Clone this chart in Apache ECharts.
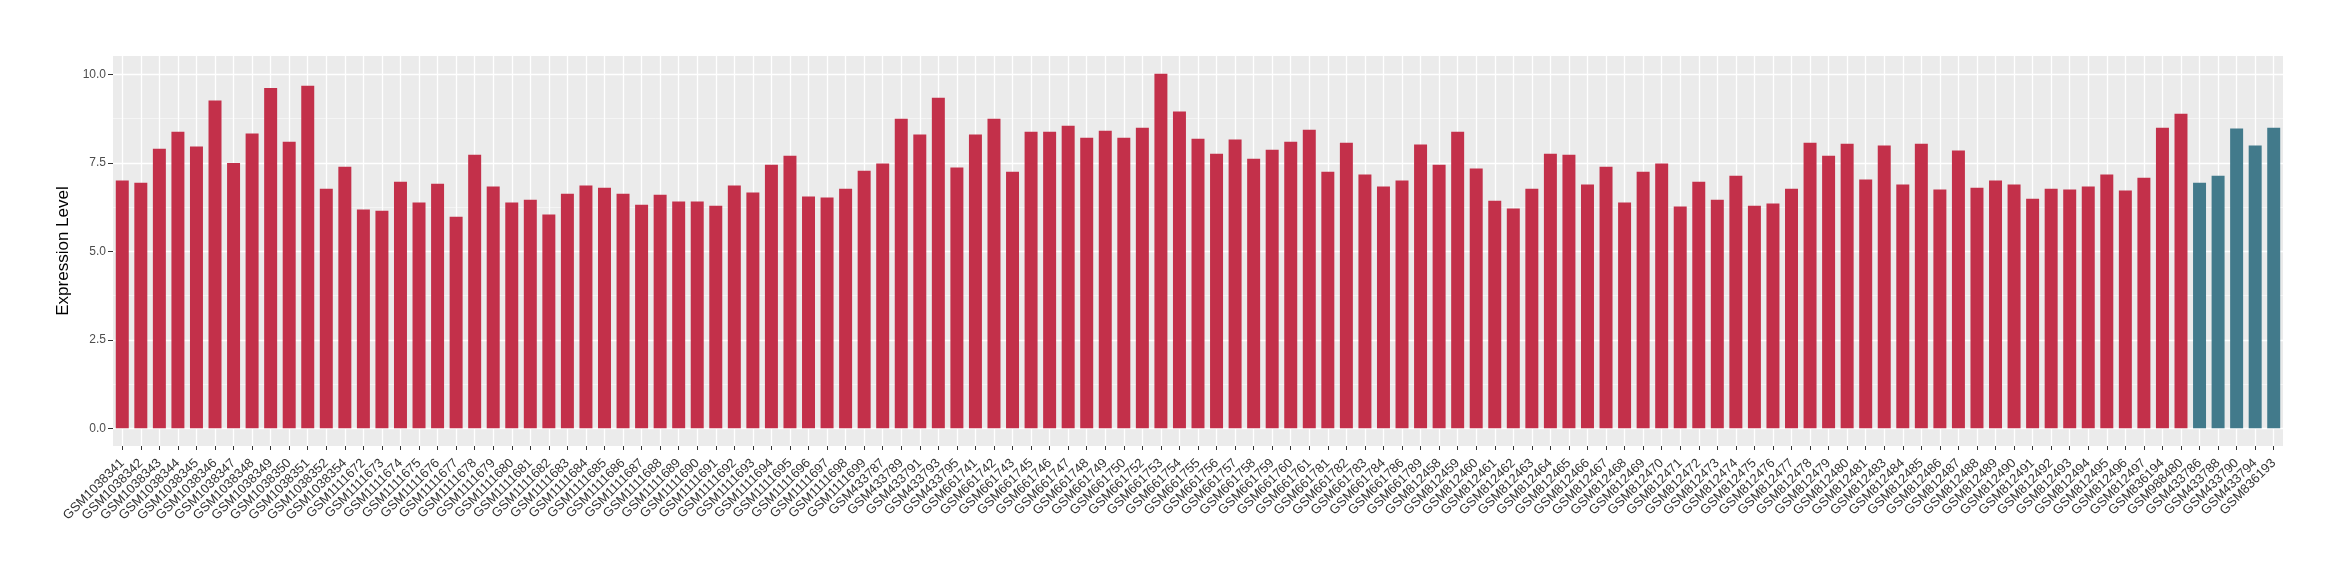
<!DOCTYPE html>
<html>
<head>
<meta charset="utf-8">
<script src="https://cdn.jsdelivr.net/npm/echarts@6/dist/echarts.min.js"></script>
<style>
  html, body { margin: 0; padding: 0; background: #ffffff; }
  #chart { width: 2340px; height: 580px; }
</style>
</head>
<body>
<div id="chart"></div>
<script>
// ---- Data ----
const redCategories = [
  'GSM1038341','GSM1038342','GSM1038343','GSM1038344','GSM1038345','GSM1038346','GSM1038347',
  'GSM1038348','GSM1038349','GSM1038350','GSM1038351','GSM1038352','GSM1038354',
  'GSM1111672','GSM1111673','GSM1111674','GSM1111675','GSM1111676','GSM1111677','GSM1111678',
  'GSM1111679','GSM1111680','GSM1111681','GSM1111682','GSM1111683','GSM1111684','GSM1111685',
  'GSM1111686','GSM1111687','GSM1111688','GSM1111689','GSM1111690','GSM1111691','GSM1111692',
  'GSM1111693','GSM1111694','GSM1111695','GSM1111696','GSM1111697','GSM1111698','GSM1111699',
  'GSM433787','GSM433789','GSM433791','GSM433793','GSM433795',
  'GSM661741','GSM661742','GSM661743','GSM661745','GSM661746','GSM661747','GSM661748','GSM661749',
  'GSM661750','GSM661752','GSM661753','GSM661754','GSM661755','GSM661756','GSM661757','GSM661758',
  'GSM661759','GSM661760','GSM661761','GSM661781','GSM661782','GSM661783','GSM661784','GSM661786',
  'GSM661789',
  'GSM812458','GSM812459','GSM812460','GSM812461','GSM812462','GSM812463','GSM812464','GSM812465',
  'GSM812466','GSM812467','GSM812468','GSM812469','GSM812470','GSM812471','GSM812472','GSM812473',
  'GSM812474','GSM812475','GSM812476','GSM812477','GSM812478','GSM812479','GSM812480','GSM812481',
  'GSM812483','GSM812484','GSM812485','GSM812486','GSM812487','GSM812488','GSM812489','GSM812490',
  'GSM812491','GSM812492','GSM812493','GSM812494','GSM812495','GSM812496','GSM812497',
  'GSM836194','GSM988480'
];
const redValues = [
  7.00, 6.94, 7.90, 8.38, 7.96, 9.26, 7.50, 8.33, 9.62, 8.10, 9.68, 6.77, 7.39,
  6.18, 6.15, 6.97, 6.38, 6.91, 5.98, 7.73, 6.83, 6.38, 6.46, 6.04, 6.63, 6.86, 6.80,
  6.63, 6.32, 6.60, 6.41, 6.41, 6.29, 6.86, 6.66, 7.45, 7.70, 6.55, 6.52, 6.77, 7.28,
  7.48, 8.75, 8.30, 9.34, 7.37,
  8.30, 8.75, 7.25, 8.38, 8.38, 8.55, 8.21, 8.41, 8.21, 8.49, 10.02, 8.95, 8.18,
  7.76, 8.16, 7.62, 7.87, 8.10, 8.44, 7.25, 8.07, 7.17, 6.83, 7.00, 8.02,
  7.45, 8.38, 7.34, 6.43, 6.21, 6.77, 7.76, 7.73,
  6.89, 7.39, 6.38, 7.25, 7.48, 6.27, 6.97, 6.46, 7.14, 6.29, 6.35, 6.77, 8.07, 7.70,
  8.04, 7.03, 7.99, 6.89, 8.04, 6.75, 7.85, 6.80, 7.00, 6.89, 6.49, 6.77, 6.75, 6.83,
  7.17, 6.72, 7.08,
  8.49, 8.89
];
const blueCategories = ['GSM433786','GSM433788','GSM433790','GSM433794','GSM836193'];
const blueValues = [6.94, 7.14, 8.47, 7.99, 8.49];
const yTickValues = [0, 2.5, 5, 7.5, 10];
const yMinorValues = [1.25, 3.75, 6.25, 8.75];

// ---- Styling ----
const RED = '#C3304A';
const BLUE = '#427A8B';
const FONT = '"Liberation Sans", Arial, Helvetica, sans-serif';

const categories = redCategories.concat(blueCategories);
const seriesData = redValues.map(v => ({ value: v, itemStyle: { color: RED } }))
  .concat(blueValues.map(v => ({ value: v, itemStyle: { color: BLUE } })));

const yMin = -0.501, yMax = 10.521;

const chart = echarts.init(document.getElementById('chart'), null, { renderer: 'canvas' });
chart.setOption({
  animation: false,
  backgroundColor: '#ffffff',
  grid: {
    left: 113, right: 57, top: 56, bottom: 134,
    show: true, backgroundColor: '#EBEBEB', borderWidth: 0,
    containLabel: false
  },
  xAxis: {
    type: 'category',
    data: categories,
    boundaryGap: true,
    axisLine: { show: false, onZero: false },
    axisTick: { show: true, alignWithLabel: true, length: 4, lineStyle: { color: '#333333', width: 1 } },
    axisLabel: { rotate: 45, interval: 0, fontSize: 13, color: '#333333', margin: 15, fontFamily: FONT },
    splitLine: { show: true, alignWithLabel: true, lineStyle: { color: '#ffffff', width: 1.3 } }
  },
  yAxis: [{
    type: 'value',
    min: yMin, max: yMax,
    axisLine: { show: false },
    axisTick: { show: true, length: 5, lineStyle: { color: '#333333', width: 1 }, customValues: yTickValues },
    axisLabel: { customValues: yTickValues, formatter: v => Number(v).toFixed(1), color: '#4D4D4D', fontSize: 12, margin: 7, fontFamily: FONT },
    splitLine: { show: true, lineStyle: { color: '#ffffff', width: 1.3 } },
    name: 'Expression Level',
    nameLocation: 'middle',
    nameGap: 32,
    nameTextStyle: { fontSize: 17, color: '#000000', fontFamily: FONT }
  }, {
    type: 'value',
    min: yMin, max: yMax,
    position: 'left',
    axisLine: { show: false },
    axisTick: { show: false, customValues: yMinorValues },
    axisLabel: { show: false, customValues: yMinorValues },
    splitLine: { show: true, lineStyle: { color: '#F7F7F7', width: 0.8 } }
  }],
  series: [{
    type: 'bar',
    data: seriesData,
    barWidth: '70%',
    yAxisIndex: 0
  }]
});
</script>
</body>
</html>
